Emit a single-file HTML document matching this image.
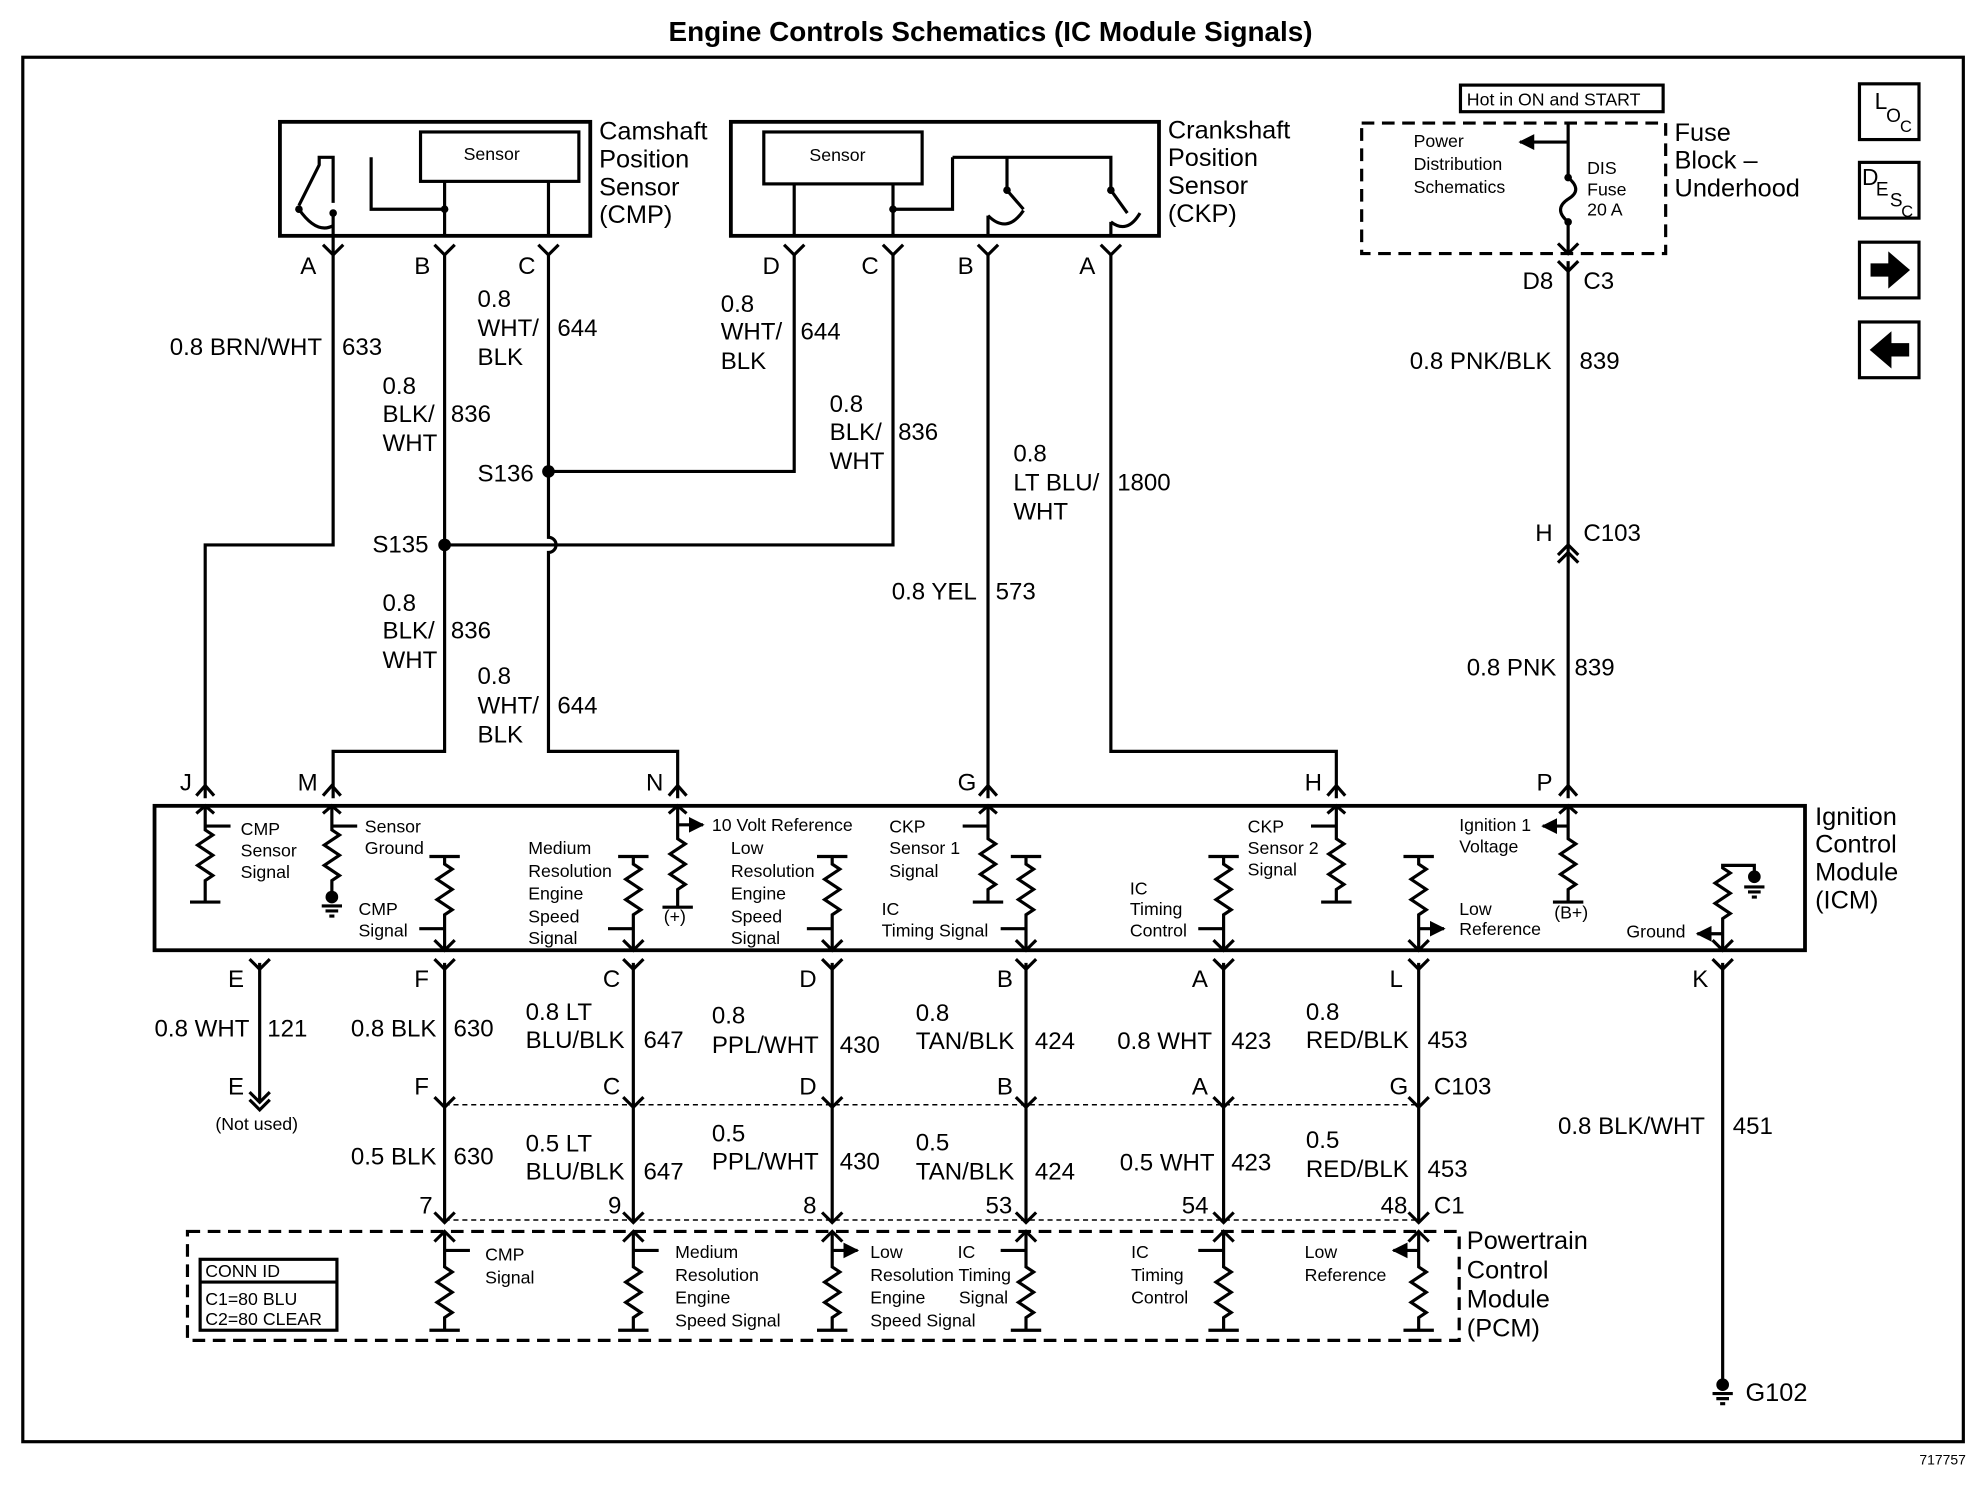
<!DOCTYPE html>
<html><head><meta charset="utf-8"><style>
html,body{margin:0;padding:0;background:#fff}
svg{display:block}
text{font-family:"Liberation Sans",Arial,sans-serif;fill:#000}
.w{font-size:19px}
.s{font-size:14px}
.l{font-size:20px}
</style></head><body>
<svg width="1976" height="1504" viewBox="0 0 1560 1187" xmlns="http://www.w3.org/2000/svg">
<defs>
<marker id="ar" viewBox="0 0 10 10" refX="9" refY="5" markerWidth="5" markerHeight="5" orient="auto"><path d="M0 0L10 5L0 10z"/></marker>
</defs>
<text x="782" y="32" text-anchor="middle" style="font-size:22px;font-weight:bold">Engine Controls Schematics (IC Module Signals)</text>
<rect x="18" y="45" width="1532" height="1093" fill="none" stroke="#000" stroke-width="2.5"/>
<text x="1552" y="1156" text-anchor="end" style="font-size:11px">717757</text>

<g fill="none" stroke="#000" stroke-width="2.5">
<rect x="221" y="96" width="245" height="90" stroke-width="3"/>
<rect x="332" y="104" width="125" height="39"/>
<rect x="577" y="96" width="338" height="90" stroke-width="3"/>
<rect x="603" y="104" width="125" height="41"/>
<rect x="122" y="636" width="1303" height="114" stroke-width="3"/>
<rect x="148" y="972" width="1004" height="86" stroke-dasharray="10,6"/>
<rect x="158" y="994" width="108" height="56"/>
<line x1="158" y1="1012" x2="266" y2="1012"/>
<rect x="1075" y="97" width="240" height="103" stroke-dasharray="10,6"/>
<rect x="1153" y="67" width="160" height="21"/>
<rect x="1468" y="66" width="47" height="44"/>
<rect x="1468" y="128" width="47" height="44"/>
<rect x="1468" y="191" width="47" height="44"/>
<rect x="1468" y="254" width="47" height="44"/>

<!-- CMP internals -->
<path d="M263 200V168M263 160V124H252V130L236 162"/>
<path d="M293 124V165H351V185M351 143V185M433 143V185"/>
<path d="M236 165Q250 185 263 178"/>
<!-- CKP internals -->
<path d="M627 145V185M705 145V185"/>
<path d="M752 124H877V150M795 124V150"/>
<path d="M795 150L808 165M877 150L890 168"/>
<path d="M780 170Q795 185 808 166M877 175Q890 185 900 168"/>
<path d="M705 165H752V124M780 170V185M877 175V185"/>

<!-- wires top -->
<path d="M263 200V430H162V630"/>
<path d="M351 200V593H263V630"/>
<path d="M433 200V424A6 6 0 0 1 433 436V593H535V630"/>
<path d="M433 372H627V200"/>
<path d="M351 430H705V200"/>
<path d="M780 200V630"/>
<path d="M877 200V593H1055V630"/>
<path d="M1238 97V138M1238 177V200M1238 206V630"/>
<path d="M1238 112H1200" marker-end="url(#ar)"/>
<path d="M1238 140Q1250 150 1238 157Q1226 165 1238 175"/>
<path d="M255 193L263 201L271 193M343 193L351 201L359 193M425 193L433 201L441 193M619 193L627 201L635 193M697 193L705 201L713 193M772 193L780 201L788 193M869 193L877 201L885 193M1230 206L1238 214L1246 206M1230 192L1238 200L1246 192"/>
<path d="M1230 438L1238 430L1246 438M1230 444L1238 436L1246 444"/>
<path d="M155 628L162 620L169 628M255 628L262 620L269 628M528 628L535 620L542 628M773 628L780 620L787 628M1048 628L1055 620L1062 628M1231 628L1238 620L1245 628"/>
<path d="M155 642L162 636L169 642M255 642L262 636L269 642M528 642L535 636L542 642M773 642L780 636L787 642M1048 642L1055 636L1062 642M1231 642L1238 636L1245 642"/>

<!-- ICM resistors top-fed -->
<path d="M162 636V655l6 4l-12 8l12 8l-12 8l12 8l-6 4V712M150 712H174"/>
<path d="M262 636V655l6 4l-12 8l12 8l-12 8l12 8l-6 4V705"/>
<path d="M535 636V662l6 4l-12 8l12 8l-12 8l12 8l-6 4V716M523 716H547"/>
<path d="M780 636V662l6 4l-12 8l12 8l-12 8l12 8l-6 4V712M768 712H792"/>
<path d="M1055 636V662l6 4l-12 8l12 8l-12 8l12 8l-6 4V712M1043 712H1067"/>
<path d="M1238 636V662l6 4l-12 8l12 8l-12 8l12 8l-6 4V712M1226 712H1250"/>
<path d="M162 652H182M262 652H282M535 651H555" marker-end="url(#ar)"/>
<path d="M780 652H760M1055 652H1035M1238 652H1218" marker-end="url(#ar)"/>
<!-- ICM resistors bottom-fed -->
<path d="M351 750V722l6-4l-12-8l12-8l-12-8l12-8l-6-4V676M339 676H363"/>
<path d="M500 750V722l6-4l-12-8l12-8l-12-8l12-8l-6-4V676M488 676H512"/>
<path d="M657 750V722l6-4l-12-8l12-8l-12-8l12-8l-6-4V676M645 676H669"/>
<path d="M810 750V722l6-4l-12-8l12-8l-12-8l12-8l-6-4V676M798 676H822"/>
<path d="M966 750V722l6-4l-12-8l12-8l-12-8l12-8l-6-4V676M954 676H978"/>
<path d="M1120 750V722l6-4l-12-8l12-8l-12-8l12-8l-6-4V676M1108 676H1132"/>
<path d="M1360 750V725l6-4l-12-8l12-8l-12-8l12-8l-6-4V683H1385V692"/>
<path d="M343 742L351 750L359 742M492 742L500 750L508 742M649 742L657 750L665 742M802 742L810 750L818 742M958 742L966 750L974 742M1112 742L1120 750L1128 742M1352 742L1360 750L1368 742"/>
<path d="M351 733H331M500 733H480M657 733H637M810 733H790M966 733H946M1360 737H1340" marker-end="url(#ar)"/>
<path d="M1120 733H1140" marker-end="url(#ar)"/>
<path d="M1377 700H1393M1380 704H1390M1383 708H1387"/>
<path d="M254 715H270M257 719H267M260 723H264"/>

<!-- below ICM wires -->
<path d="M205 760V870M351 760V965M500 760V965M657 760V965M810 760V965M966 760V965M1120 760V965M1360 760V1095"/>
<path d="M197 757L205 765L213 757M343 757L351 765L359 757M492 757L500 765L508 757M649 757L657 765L665 757M802 757L810 765L818 757M958 757L966 765L974 757M1112 757L1120 765L1128 757M1352 757L1360 765L1368 757"/>
<path d="M197 862L205 870L213 862M197 868L205 876L213 868"/>
<path d="M343 866L351 874L359 866M492 866L500 874L508 866M649 866L657 874L665 866M802 866L810 874L818 866M958 866L966 874L974 866M1112 866L1120 874L1128 866"/>
<path d="M351 872H1120M351 963H1120" stroke-width="1.2" stroke-dasharray="4,3"/>
<path d="M343 957L351 965L359 957M492 957L500 965L508 957M649 957L657 965L665 957M802 957L810 965L818 957M958 957L966 965L974 957M1112 957L1120 965L1128 957"/>
<!-- PCM resistors -->
<path d="M351 972V1000l6 4l-12 8l12 8l-12 8l12 8l-6 4V1050M339 1050H363"/>
<path d="M500 972V1000l6 4l-12 8l12 8l-12 8l12 8l-6 4V1050M488 1050H512"/>
<path d="M657 972V1000l6 4l-12 8l12 8l-12 8l12 8l-6 4V1050M645 1050H669"/>
<path d="M810 972V1000l6 4l-12 8l12 8l-12 8l12 8l-6 4V1050M798 1050H822"/>
<path d="M966 972V1000l6 4l-12 8l12 8l-12 8l12 8l-6 4V1050M954 1050H978"/>
<path d="M1120 972V1000l6 4l-12 8l12 8l-12 8l12 8l-6 4V1050M1108 1050H1132"/>
<path d="M343 980L351 972L359 980M492 980L500 972L508 980M649 980L657 972L665 980M802 980L810 972L818 980M958 980L966 972L974 980M1112 980L1120 972L1128 980"/>
<path d="M351 987H371M500 987H520M657 987H677" marker-end="url(#ar)"/>
<path d="M810 987H790M966 987H946M1120 987H1100" marker-end="url(#ar)"/>
<path d="M1352 1100H1368M1355 1104H1365M1358 1108H1362"/>
<path d="M1478 209H1492V201L1506 213L1492 225V217H1478Z" fill="#000"/>
<path d="M1506 272H1492V264L1478 276L1492 288V280H1506Z" fill="#000"/>
</g>
<g fill="#000">
<circle cx="433" cy="372" r="5"/><circle cx="351" cy="430" r="5"/>
<circle cx="351" cy="165" r="3"/><circle cx="705" cy="165" r="3"/>
<circle cx="263" cy="168" r="3"/><circle cx="236" cy="165" r="3"/>
<circle cx="795" cy="150" r="3"/><circle cx="877" cy="150" r="3"/>
<circle cx="1238" cy="140" r="3"/><circle cx="1238" cy="175" r="3"/>
<circle cx="1385" cy="692" r="5"/><circle cx="262" cy="708" r="5"/>
<circle cx="1360" cy="1093" r="5"/>
</g>

<g class="s">
<text x="366" y="126">Sensor</text>
<text x="639" y="127">Sensor</text>
<text x="1158" y="83">Hot in ON and START</text>
<text x="1116" y="116">Power</text><text x="1116" y="134">Distribution</text><text x="1116" y="152">Schematics</text>
<text x="1253" y="137">DIS</text><text x="1253" y="154">Fuse</text><text x="1253" y="170">20 A</text>
<text x="162" y="1008">CONN ID</text>
<text x="162" y="1030">C1=80 BLU</text><text x="162" y="1046">C2=80 CLEAR</text>
<text x="190" y="659">CMP</text><text x="190" y="676">Sensor</text><text x="190" y="693">Signal</text>
<text x="288" y="657">Sensor</text><text x="288" y="674">Ground</text>
<text x="283" y="722">CMP</text><text x="283" y="739">Signal</text>
<text x="417" y="674">Medium</text><text x="417" y="692">Resolution</text><text x="417" y="710">Engine</text><text x="417" y="728">Speed</text><text x="417" y="745">Signal</text>
<text x="524" y="728">(+)</text>
<text x="562" y="656">10 Volt Reference</text>
<text x="577" y="674">Low</text><text x="577" y="692">Resolution</text><text x="577" y="710">Engine</text><text x="577" y="728">Speed</text><text x="577" y="745">Signal</text>
<text x="702" y="657">CKP</text><text x="702" y="674">Sensor 1</text><text x="702" y="692">Signal</text>
<text x="696" y="722">IC</text><text x="696" y="739">Timing Signal</text>
<text x="892" y="706">IC</text><text x="892" y="722">Timing</text><text x="892" y="739">Control</text>
<text x="985" y="657">CKP</text><text x="985" y="674">Sensor 2</text><text x="985" y="691">Signal</text>
<text x="1152" y="656">Ignition 1</text><text x="1152" y="673">Voltage</text>
<text x="1152" y="722">Low</text><text x="1152" y="738">Reference</text>
<text x="1227" y="725">(B+)</text>
<text x="1284" y="740">Ground</text>
<text x="170" y="892">(Not used)</text>
<text x="383" y="995">CMP</text><text x="383" y="1013">Signal</text>
<text x="533" y="993">Medium</text><text x="533" y="1011">Resolution</text><text x="533" y="1029">Engine</text><text x="533" y="1047">Speed Signal</text>
<text x="687" y="993">Low</text><text x="687" y="1011">Resolution Timing</text><text x="687" y="1029">Engine</text><text x="687" y="1047">Speed Signal</text>
<text x="756" y="993">IC</text><text x="757" y="1029">Signal</text>
<text x="893" y="993">IC</text><text x="893" y="1011">Timing</text><text x="893" y="1029">Control</text>
<text x="1030" y="993">Low</text><text x="1030" y="1011">Reference</text>
</g>
<g style="font-size:18px" fill="#000">
<text x="1480" y="86">L</text><text x="1489" y="96" style="font-size:15px">O</text><text x="1500" y="104" style="font-size:13px">C</text>
<text x="1470" y="146">D</text><text x="1481" y="154" style="font-size:15px">E</text><text x="1492" y="163" style="font-size:15px">S</text><text x="1501" y="171" style="font-size:13px">C</text>
</g>

<g class="l">
<text x="473" y="110">Camshaft</text><text x="473" y="132">Position</text><text x="473" y="154">Sensor</text><text x="473" y="176">(CMP)</text>
<text x="922" y="109">Crankshaft</text><text x="922" y="131">Position</text><text x="922" y="153">Sensor</text><text x="922" y="175">(CKP)</text>
<text x="1322" y="111">Fuse</text><text x="1322" y="133">Block –</text><text x="1322" y="155">Underhood</text>
<text x="1433" y="651">Ignition</text><text x="1433" y="673">Control</text><text x="1433" y="695">Module</text><text x="1433" y="717">(ICM)</text>
<text x="1158" y="986">Powertrain</text><text x="1158" y="1009">Control</text><text x="1158" y="1032">Module</text><text x="1158" y="1055">(PCM)</text>
<text x="1378" y="1106">G102</text>
</g>

<g class="w">
<text x="237" y="216">A</text><text x="327" y="216">B</text><text x="409" y="216">C</text>
<text x="602" y="216">D</text><text x="680" y="216">C</text><text x="756" y="216">B</text><text x="852" y="216">A</text>
<text x="1202" y="228">D8</text><text x="1250" y="228">C3</text>
<text x="134" y="280">0.8 BRN/WHT</text><text x="270" y="280">633</text>
<text x="377" y="242">0.8</text><text x="377" y="265">WHT/</text><text x="440" y="265">644</text><text x="377" y="288">BLK</text>
<text x="302" y="311">0.8</text><text x="302" y="333">BLK/</text><text x="356" y="333">836</text><text x="302" y="356">WHT</text>
<text x="377" y="380">S136</text>
<text x="294" y="436">S135</text>
<text x="569" y="246">0.8</text><text x="569" y="268">WHT/</text><text x="632" y="268">644</text><text x="569" y="291">BLK</text>
<text x="655" y="325">0.8</text><text x="655" y="347">BLK/</text><text x="709" y="347">836</text><text x="655" y="370">WHT</text>
<text x="800" y="364">0.8</text><text x="800" y="387">LT BLU/</text><text x="882" y="387">1800</text><text x="800" y="410">WHT</text>
<text x="1113" y="291">0.8 PNK/BLK</text><text x="1247" y="291">839</text>
<text x="1212" y="427">H</text><text x="1250" y="427">C103</text>
<text x="704" y="473">0.8 YEL</text><text x="786" y="473">573</text>
<text x="302" y="482">0.8</text><text x="302" y="504">BLK/</text><text x="356" y="504">836</text><text x="302" y="527">WHT</text>
<text x="377" y="540">0.8</text><text x="377" y="563">WHT/</text><text x="440" y="563">644</text><text x="377" y="586">BLK</text>
<text x="1158" y="533">0.8 PNK</text><text x="1243" y="533">839</text>
<text x="142" y="624">J</text><text x="235" y="624">M</text><text x="510" y="624">N</text><text x="756" y="624">G</text><text x="1030" y="624">H</text><text x="1213" y="624">P</text>
<text x="180" y="779">E</text><text x="327" y="779">F</text><text x="476" y="779">C</text><text x="631" y="779">D</text><text x="787" y="779">B</text><text x="941" y="779">A</text><text x="1097" y="779">L</text><text x="1336" y="779">K</text>
<text x="122" y="818">0.8 WHT</text><text x="211" y="818">121</text>
<text x="277" y="818">0.8 BLK</text><text x="358" y="818">630</text>
<text x="415" y="805">0.8 LT</text><text x="415" y="827">BLU/BLK</text><text x="508" y="827">647</text>
<text x="562" y="808">0.8</text><text x="562" y="831">PPL/WHT</text><text x="663" y="831">430</text>
<text x="723" y="806">0.8</text><text x="723" y="828">TAN/BLK</text><text x="817" y="828">424</text>
<text x="882" y="828">0.8 WHT</text><text x="972" y="828">423</text>
<text x="1031" y="805">0.8</text><text x="1031" y="827">RED/BLK</text><text x="1127" y="827">453</text>
<text x="180" y="864">E</text><text x="327" y="864">F</text><text x="476" y="864">C</text><text x="631" y="864">D</text><text x="787" y="864">B</text><text x="941" y="864">A</text><text x="1097" y="864">G</text><text x="1132" y="864">C103</text>
<text x="1230" y="895">0.8 BLK/WHT</text><text x="1368" y="895">451</text>
<text x="277" y="919">0.5 BLK</text><text x="358" y="919">630</text>
<text x="415" y="909">0.5 LT</text><text x="415" y="931">BLU/BLK</text><text x="508" y="931">647</text>
<text x="562" y="901">0.5</text><text x="562" y="923">PPL/WHT</text><text x="663" y="923">430</text>
<text x="723" y="908">0.5</text><text x="723" y="931">TAN/BLK</text><text x="817" y="931">424</text>
<text x="884" y="924">0.5 WHT</text><text x="972" y="924">423</text>
<text x="1031" y="906">0.5</text><text x="1031" y="929">RED/BLK</text><text x="1127" y="929">453</text>
<text x="331" y="958">7</text><text x="480" y="958">9</text><text x="634" y="958">8</text><text x="778" y="958">53</text><text x="933" y="958">54</text><text x="1090" y="958">48</text><text x="1132" y="958">C1</text>
</g>
</svg>
</body></html>
